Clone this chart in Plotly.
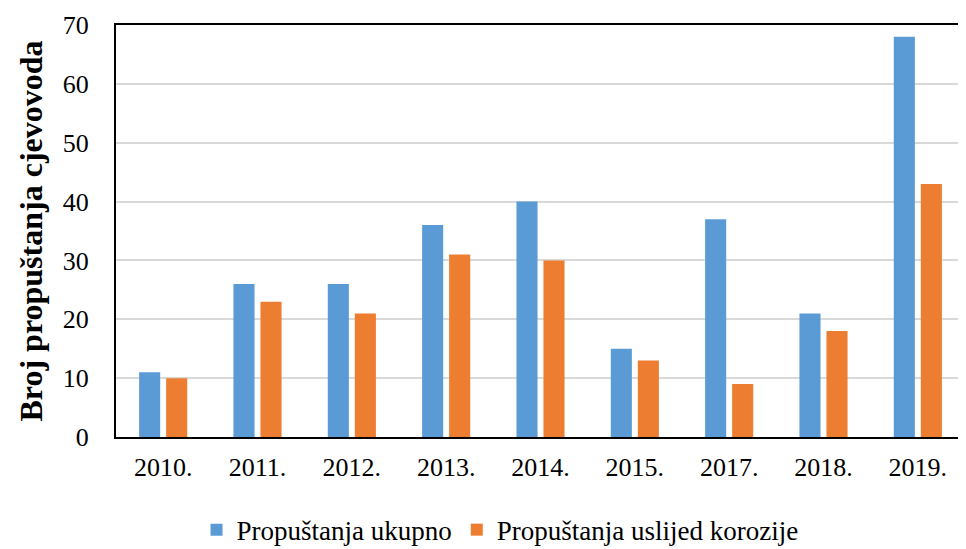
import plotly.graph_objects as go

years = ["2010.", "2011.", "2012.", "2013.", "2014.", "2015.", "2017.", "2018.", "2019."]
ukupno = [11, 26, 26, 36, 40, 15, 37, 21, 68]
korozija = [10, 23, 21, 31, 30, 13, 9, 18, 43]
y_ticks = [0, 10, 20, 30, 40, 50, 60, 70]

FONT = "Liberation Serif"

fig = go.Figure()
fig.add_trace(go.Bar(x=years, y=ukupno, name="Propuštanja ukupno",
                     marker=dict(color="#5B9BD5", line=dict(width=0))))
fig.add_trace(go.Bar(x=years, y=korozija, name="Propuštanja uslijed korozije",
                     marker=dict(color="#ED7D31", line=dict(width=0))))

# page body has an 8px default margin; figure sized to fit the 966x549 window
fig.update_layout(
    width=958, height=541,
    margin=dict(l=108, r=1, t=17, b=112, autoexpand=False),
    paper_bgcolor="white", plot_bgcolor="white",
    barmode="group", bargap=0.427, bargroupgap=0.22,
    font=dict(family=FONT, size=26, color="#000000"),
    showlegend=True,
    legend=dict(orientation="h", xref="container", yref="paper",
                x=0.5136, xanchor="center", y=-0.226, yanchor="middle",
                font=dict(family=FONT, size=27, color="#000000"),
                itemwidth=30, traceorder="normal"),
    xaxis=dict(showline=True, linecolor="#000000", linewidth=2, mirror=True,
               showgrid=False, ticks="", tickfont=dict(family=FONT, size=26),
               ticklabelstandoff=6, automargin=False),
    yaxis=dict(range=[0, 70], tickvals=y_ticks, showline=True, linecolor="#000000",
               linewidth=2, showgrid=True, gridcolor="#D9D9D9", gridwidth=1.5,
               ticks="", zeroline=False, tickfont=dict(family=FONT, size=26),
               ticklabelstandoff=20, automargin=False,
               title=dict(text="<b>Broj propuštanja cjevovoda</b>",
                          font=dict(family=FONT, size=32), standoff=11)),
)

fig.write_html("out.html")
